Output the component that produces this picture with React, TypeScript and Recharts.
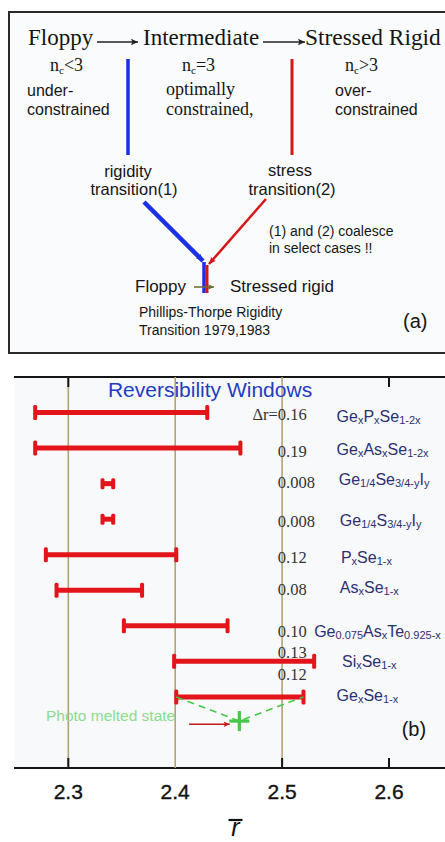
import React from 'react';
import { ScatterChart, Scatter, XAxis, YAxis, ReferenceLine } from 'recharts';

// ---------------- Panel (b) data ----------------
const systems = [
  'Ge_{x}P_{x}Se_{1-2x}',
  'Ge_{x}As_{x}Se_{1-2x}',
  'Ge_{1/4}Se_{3/4-y}I_{y}',
  'Ge_{1/4}S_{3/4-y}I_{y}',
  'P_{x}Se_{1-x}',
  'As_{x}Se_{1-x}',
  'Ge_{0.075}As_{x}Te_{0.925-x}',
  'Si_{x}Se_{1-x}',
  'Ge_{x}Se_{1-x}',
];
const rows = [1, 2, 3, 4, 5, 6, 7, 8, 9];
const windowLow = [2.269, 2.269, 2.332, 2.332, 2.279, 2.289, 2.352, 2.399, 2.401];
const windowHigh = [2.430, 2.461, 2.342, 2.342, 2.401, 2.369, 2.449, 2.530, 2.520];
const deltaR = ['0.16', '0.19', '0.008', '0.008', '0.12', '0.08', '0.10', '0.13', '0.12'];
const photoMelted = { x: 2.46, y: 9.68 };
const xTicks = [2.3, 2.4, 2.5, 2.6];
const yTicks = [1, 3, 5, 7, 9];
const gridX = [2.3, 2.4, 2.5];
const Y_DOMAIN = [0, 11];

// label layout (pixel offsets of text baselines from their bar rows)
const VALUE_X = 2.496;
const VALUE_DY = [7.5, 8.7, 4.4, 7.7, 8.3, 5, 11, -3.6, -16.8];
const FORMULA_X = [2.551, 2.551, 2.553, 2.554, 2.555, 2.554, 2.530, 2.556, 2.551];
const FORMULA_DY = [9.5, 7, 1.4, 7, 8.3, 2.7, 11.2, 5.4, 4.2];

// ---------------- Panel (a) diagram ----------------
const INK = '#222222';
const BLUE = '#1a2fe6';
const RED_A = '#d41616';
const OLIVE = '#6b6a2e';

const diagramSegments = [
  { pts: [[97, 42], [138, 42]], color: INK, w: 1.5, head: 7 },
  { pts: [[263, 42], [305, 42]], color: INK, w: 1.5, head: 7 },
  { pts: [[128, 59], [128, 155]], color: BLUE, w: 3.5, head: 0 },
  { pts: [[292, 59], [292, 155]], color: RED_A, w: 3, head: 0 },
  { pts: [[144, 202], [203, 261]], color: BLUE, w: 4.5, head: 7 },
  { pts: [[266, 199], [209, 264]], color: RED_A, w: 2.5, head: 7 },
  { pts: [[204, 262], [204, 293]], color: BLUE, w: 3.5, head: 0 },
  { pts: [[207, 265], [207, 293]], color: RED_A, w: 3, head: 0 },
  { pts: [[194, 287], [214, 287]], color: OLIVE, w: 1.5, head: 6 },
];

const SANS = '"Liberation Sans", Arial, sans-serif';
const SERIF = '"Liberation Serif", "Times New Roman", serif';

const diagramLabels = [
  { t: 'Floppy', x: 28, y: 45, f: SERIF, s: 23, a: 'start' },
  { t: 'Intermediate', x: 143, y: 45, f: SERIF, s: 23, a: 'start' },
  { t: 'Stressed Rigid', x: 305, y: 45, f: SERIF, s: 23.4, a: 'start' },
  { t: 'n_{c}<3', x: 50, y: 71, f: SERIF, s: 18, a: 'start' },
  { t: 'n_{c}=3', x: 182, y: 71, f: SERIF, s: 18, a: 'start' },
  { t: 'n_{c}>3', x: 345, y: 71, f: SERIF, s: 18, a: 'start' },
  { t: 'under-', x: 27, y: 96, f: SANS, s: 16, a: 'start' },
  { t: 'constrained', x: 27, y: 114.5, f: SANS, s: 16, a: 'start' },
  { t: 'optimally', x: 166, y: 95, f: SERIF, s: 18, a: 'start' },
  { t: 'constrained,', x: 166, y: 115, f: SERIF, s: 18, a: 'start' },
  { t: 'over-', x: 335, y: 96, f: SANS, s: 16, a: 'start' },
  { t: 'constrained', x: 335, y: 114.5, f: SANS, s: 16, a: 'start' },
  { t: 'rigidity', x: 128, y: 177, f: SANS, s: 16.5, a: 'middle' },
  { t: 'transition(1)', x: 134, y: 195, f: SANS, s: 16.5, a: 'middle' },
  { t: 'stress', x: 290, y: 176, f: SANS, s: 16.5, a: 'middle' },
  { t: 'transition(2)', x: 292, y: 195, f: SANS, s: 16.5, a: 'middle' },
  { t: '(1) and (2) coalesce', x: 269, y: 235.5, f: SANS, s: 14, a: 'start' },
  { t: 'in select cases !!', x: 269, y: 252.5, f: SANS, s: 14, a: 'start' },
  { t: 'Floppy', x: 135, y: 292, f: SANS, s: 17, a: 'start' },
  { t: 'Stressed rigid', x: 230, y: 292, f: SANS, s: 17, a: 'start' },
  { t: 'Phillips-Thorpe Rigidity', x: 139, y: 317, f: SANS, s: 14, a: 'start' },
  { t: 'Transition 1979,1983', x: 139, y: 335, f: SANS, s: 14, a: 'start' },
  { t: '(a)', x: 403, y: 328, f: SANS, s: 20, a: 'start' },
];

// ---------------- helpers ----------------
function rich(str: string, subSize: number, subDy: number) {
  const parts: { t: string; sub: boolean }[] = [];
  const re = /_\{([^}]*)\}/g;
  let last = 0;
  let m: RegExpExecArray | null;
  while ((m = re.exec(str))) {
    if (m.index > last) parts.push({ t: str.slice(last, m.index), sub: false });
    parts.push({ t: m[1], sub: true });
    last = re.lastIndex;
  }
  if (last < str.length) parts.push({ t: str.slice(last), sub: false });
  let cur = 0;
  return parts.map((p, i) => {
    const target = p.sub ? subDy : 0;
    const dy = target - cur;
    cur = target;
    return (
      <tspan key={i} dy={dy} fontSize={p.sub ? subSize : undefined}>
        {p.t}
      </tspan>
    );
  });
}

const Empty = () => <g />;

const ArrowHead = (props: any) => {
  const { cx, cy, payload } = props;
  const s = payload.size;
  return (
    <polygon
      points={`0,0 ${-s},${-s * 0.45} ${-s * 0.8},0 ${-s},${s * 0.45}`}
      transform={`translate(${cx},${cy}) rotate(${payload.angle})`}
      fill={payload.color}
    />
  );
};

const DiagramText = (props: any) => {
  const { cx, cy, payload } = props;
  return (
    <text x={cx} y={cy} fontFamily={payload.f} fontSize={payload.s} textAnchor={payload.a} fill="#151515">
      {rich(payload.t, payload.s * 0.62, 3)}
    </text>
  );
};

// ---------------- Panel (b) styling ----------------
const RED = '#e3141a';
const TAN = '#b3a374';
const AXIS = '#151515';
const NAVY = '#2c2f70';
const GREEN = '#45c845';
const B_MARGIN = { top: 17, right: 0, bottom: 44, left: 14 };
const TOP_TICK_MARKS = [2.3, 2.6];
const BOTTOM_TICK_MARKS = [2.3, 2.5, 2.6];

const Cap = (props: any) => {
  const { cx, cy, payload } = props;
  const h = payload.capH;
  return <rect x={cx - 2} y={cy - h / 2} width={4} height={h} rx={1.5} fill={RED} />;
};

const ValueText = (props: any) => {
  const { cx, cy, payload } = props;
  return (
    <g>
      {payload.i === 0 && (
        <text x={cx} y={cy + payload.dy} fontFamily={SERIF} fontSize={16.5} fill="#333" textAnchor="end">
          Δr=
        </text>
      )}
      <text x={cx} y={cy + payload.dy} fontFamily={SERIF} fontSize={16.5} fill="#333">
        {payload.v}
      </text>
    </g>
  );
};

const FormulaText = (props: any) => {
  const { cx, cy, payload } = props;
  return (
    <text x={cx} y={cy + payload.dy} fontFamily={SANS} fontSize={16} fill={NAVY}>
      {rich(payload.name, 11, 2)}
    </text>
  );
};

const XTick = (props: any) => {
  const { x, y, payload } = props;
  const v = payload.value;
  return (
    <g>
      {BOTTOM_TICK_MARKS.includes(v) && <line x1={x} x2={x} y1={y} y2={y - 10} stroke={AXIS} strokeWidth={2} />}
      {TOP_TICK_MARKS.includes(v) && (
        <line x1={x} x2={x} y1={B_MARGIN.top} y2={B_MARGIN.top + 10} stroke={AXIS} strokeWidth={2} />
      )}
      <text x={x} y={y + 31} textAnchor="middle" fontFamily={SANS} fontSize={21} fill="#111" stroke="#111" strokeWidth={0.35}>
        {v.toFixed(1)}
      </text>
    </g>
  );
};

const YTick = (props: any) => {
  const { x, y } = props;
  return <line x1={x} x2={x + 10} y1={y} y2={y} stroke={AXIS} strokeWidth={2} />;
};

const RBarLabel = (props: any) => {
  const vb = props.viewBox || {};
  const cx = vb.x + vb.width / 2 + 6;
  const top = vb.y;
  return (
    <g>
      <line x1={cx - 7} x2={cx + 7} y1={top + 52} y2={top + 52} stroke="#111" strokeWidth={2.2} />
      <text x={cx} y={top + 68} textAnchor="middle" fontFamily={SANS} fontStyle="italic" fontSize={25} fill="#111">
        r
      </text>
    </g>
  );
};

const TitleText = (props: any) => (
  <text x={props.cx} y={props.cy} textAnchor="middle" fontFamily={SANS} fontSize={21} fill="#1f3cc2">
    Reversibility Windows
  </text>
);
const PanelBText = (props: any) => (
  <text x={props.cx} y={props.cy} fontFamily={SANS} fontSize={20} fill="#151515">
    (b)
  </text>
);
const PhotoText = (props: any) => (
  <text x={props.cx} y={props.cy} fontFamily={SANS} fontSize={15.5} fill="#8cdc8c">
    Photo melted state
  </text>
);
const Cross = (props: any) => {
  const { cx, cy } = props;
  return (
    <g stroke={GREEN} strokeWidth={3.2}>
      <line x1={cx - 10} x2={cx + 10} y1={cy} y2={cy} />
      <line x1={cx} x2={cx} y1={cy - 10} y2={cy + 10} />
    </g>
  );
};

export default function App() {
  const arrowData = diagramSegments
    .filter((s) => s.head > 0)
    .map((s) => {
      const [a, b] = [s.pts[s.pts.length - 2], s.pts[s.pts.length - 1]];
      return {
        x: b[0],
        y: b[1],
        angle: (Math.atan2(b[1] - a[1], b[0] - a[0]) * 180) / Math.PI,
        color: s.color,
        size: s.head,
      };
    });

  const valueData = rows.map((r, i) => ({ x: VALUE_X, y: r, v: deltaR[i], dy: VALUE_DY[i], i }));
  const formulaData = rows.map((r, i) => ({ x: FORMULA_X[i], y: r, name: systems[i], dy: FORMULA_DY[i] }));
  const gexse = rows.length - 1;
  const dashedData = [
    { x: windowLow[gexse], y: rows[gexse] },
    photoMelted,
    { x: windowHigh[gexse], y: rows[gexse] },
  ];
  const pointerData = [
    { x: 2.413, y: 9.77 },
    { x: 2.451, y: 9.77 },
  ];

  return (
    <div style={{ position: 'absolute', left: 0, top: 0, width: 445, height: 842, overflow: 'hidden', background: '#fff' }}>
      {/* panel (a) frame */}
      <div
        style={{
          position: 'absolute',
          left: 7.5,
          top: 11,
          width: 450,
          height: 343,
          boxSizing: 'border-box',
          border: '2.5px solid #2a2a2a',
          background: '#fafbfc',
        }}
      />
      <div style={{ position: 'absolute', left: 0, top: 0 }}>
        <ScatterChart width={445} height={360} margin={{ top: 0, right: 0, bottom: 0, left: 0 }}>
          <XAxis type="number" dataKey="x" domain={[0, 445]} hide />
          <YAxis type="number" dataKey="y" domain={[0, 360]} reversed hide />
          {diagramSegments.map((s, i) => (
            <Scatter
              key={'seg' + i}
              data={s.pts.map((p) => ({ x: p[0], y: p[1] }))}
              line={{ stroke: s.color, strokeWidth: s.w }}
              shape={Empty}
              isAnimationActive={false}
            />
          ))}
          <Scatter data={arrowData} shape={ArrowHead} isAnimationActive={false} />
          <Scatter data={diagramLabels} shape={DiagramText} isAnimationActive={false} />
        </ScatterChart>
      </div>

      {/* panel (b) plot background */}
      <div style={{ position: 'absolute', left: 14, top: 377, width: 431, height: 391, background: '#f7f9fb' }} />
      <div style={{ position: 'absolute', left: 0, top: 360 }}>
        <ScatterChart width={445} height={482} margin={B_MARGIN}>
          <XAxis
            type="number"
            dataKey="x"
            domain={[2.2492, 2.6524]}
            ticks={xTicks}
            interval={0}
            height={30}
            tickLine={false}
            tickSize={0}
            tickMargin={0}
            tick={XTick}
            axisLine={{ stroke: AXIS, strokeWidth: 2 }}
            label={{ content: RBarLabel }}
          />
          <YAxis
            type="number"
            dataKey="y"
            domain={Y_DOMAIN}
            reversed
            width={0}
            ticks={yTicks}
            interval={0}
            tickLine={false}
            tickSize={0}
            tickMargin={0}
            tick={YTick}
            axisLine={{ stroke: AXIS, strokeWidth: 2 }}
          />
          <ReferenceLine y={0} stroke={AXIS} strokeWidth={2} />
          {gridX.map((g) => (
            <Scatter
              key={'g' + g}
              data={[
                { x: g, y: Y_DOMAIN[0] },
                { x: g, y: Y_DOMAIN[1] },
              ]}
              line={{ stroke: TAN, strokeWidth: 1.6 }}
              shape={Empty}
              isAnimationActive={false}
            />
          ))}
          {rows.map((r, i) => (
            <Scatter
              key={'bar' + i}
              data={[
                { x: windowLow[i], y: r, capH: windowHigh[i] - windowLow[i] < 0.02 ? 11 : 15 },
                { x: windowHigh[i], y: r, capH: windowHigh[i] - windowLow[i] < 0.02 ? 11 : 15 },
              ]}
              line={{ stroke: RED, strokeWidth: 5 }}
              shape={Cap}
              isAnimationActive={false}
            />
          ))}
          <Scatter
            data={dashedData}
            line={{ stroke: GREEN, strokeWidth: 1.6, strokeDasharray: '7 5' }}
            shape={Empty}
            isAnimationActive={false}
          />
          <Scatter data={[photoMelted]} shape={Cross} isAnimationActive={false} />
          <Scatter
            data={pointerData}
            line={{ stroke: '#c01a1a', strokeWidth: 1.6 }}
            shape={Empty}
            isAnimationActive={false}
          />
          <Scatter
            data={[{ ...pointerData[1], angle: 0, color: '#c01a1a', size: 6 }]}
            shape={ArrowHead}
            isAnimationActive={false}
          />
          <Scatter data={valueData} shape={ValueText} isAnimationActive={false} />
          <Scatter data={formulaData} shape={FormulaText} isAnimationActive={false} />
          <Scatter data={[{ x: 2.4326, y: 0.554 }]} shape={TitleText} isAnimationActive={false} />
          <Scatter data={[{ x: 2.6119, y: 10.1 }]} shape={PanelBText} isAnimationActive={false} />
          <Scatter data={[{ x: 2.2791, y: 9.668 }]} shape={PhotoText} isAnimationActive={false} />
        </ScatterChart>
      </div>
    </div>
  );
}
